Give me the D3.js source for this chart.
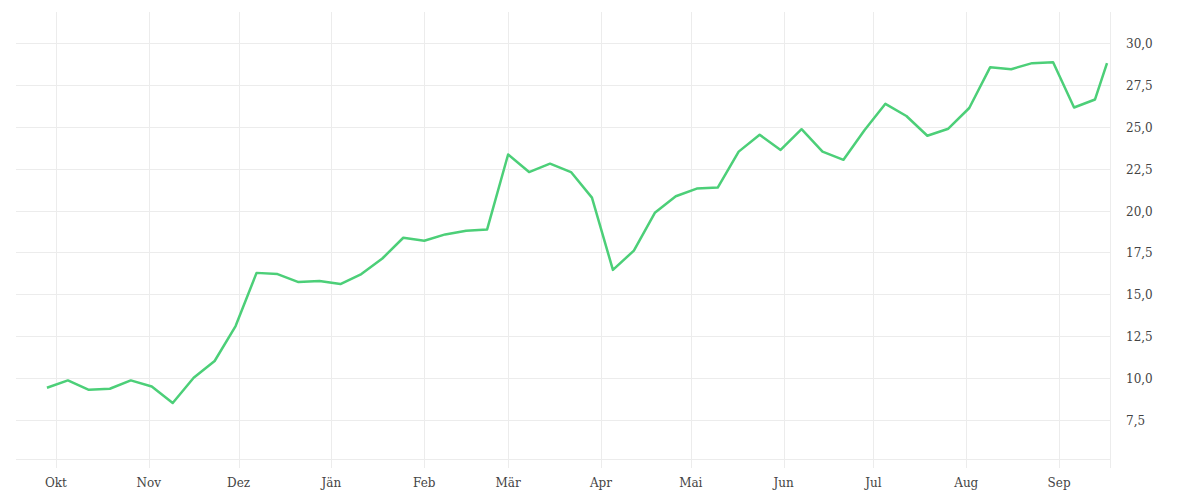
<!DOCTYPE html>
<html>
<head>
<meta charset="utf-8">
<script src="https://cdn.jsdelivr.net/npm/d3@7"></script>
<style>
  html, body { margin: 0; padding: 0; background: #fff; }
  svg { display: block; }
  text { font-family: "DejaVu Serif", serif; font-size: 12px; fill: #444; }
</style>
</head>
<body>
<svg id="chart" width="1200" height="500"></svg>
<script>
// ---- data ----
const startDate = "2022-09-28";   // first weekly observation (Wednesdays)
const lastDate = "2023-09-17";    // final (partial week) observation
const values = [
  9.40, 9.84, 9.28, 9.34, 9.84, 9.48, 8.49, 10.00, 11.00, 13.09,
  16.27, 16.20, 15.72, 15.78, 15.60, 16.20, 17.13, 18.37, 18.19, 18.57,
  18.79, 18.87, 23.35, 22.30, 22.80, 22.30, 20.77, 16.45, 17.60, 19.86,
  20.85, 21.31, 21.37, 23.52, 24.53, 23.62, 24.86, 23.52, 23.03, 24.80,
  26.38, 25.65, 24.47, 24.89, 26.13, 28.57, 28.45, 28.81, 28.87, 26.16,
  26.64, 28.81
];
const monthLabels = ["Okt", "Nov", "Dez", "Jän", "Feb", "Mär", "Apr", "Mai", "Jun", "Jul", "Aug", "Sep"];
const monthStarts = ["2022-10-01", "2022-11-01", "2022-12-01", "2023-01-01", "2023-02-01", "2023-03-01",
                     "2023-04-01", "2023-05-01", "2023-06-01", "2023-07-01", "2023-08-01", "2023-09-01"];
const yTicks = [7.5, 10, 12.5, 15, 17.5, 20, 22.5, 25, 27.5, 30];
const xDomain = ["2022-09-18", "2023-09-18"];
const yDomain = [5.17, 31.87];

// ---- build ----
const parse = d3.utcParse("%Y-%m-%d");
const dates = values.map((v, i) => i < values.length - 1
  ? d3.utcDay.offset(parse(startDate), i * 7)
  : parse(lastDate));
const data = values.map((v, i) => ({ date: dates[i], value: v }));

const pLeft = 16, pRight = 1110, pTop = 12, pBottom = 458.5;
const x = d3.scaleUtc().domain(xDomain.map(parse)).range([17, pRight]);
const y = d3.scaleLinear().domain(yDomain).range([pBottom, pTop]);

const locale = d3.formatLocale({ decimal: ",", thousands: ".", grouping: [3], currency: ["", " €"] });
const fmt = locale.format(".1f");

const svg = d3.select("#chart");
const grid = "#ececec";

// horizontal grid
svg.append("g")
  .selectAll("line").data(yTicks).join("line")
  .attr("x1", pLeft).attr("x2", pRight)
  .attr("y1", d => Math.round(y(d)) + 0.5).attr("y2", d => Math.round(y(d)) + 0.5)
  .attr("stroke", grid).attr("stroke-width", 1);
// bottom boundary
svg.append("line")
  .attr("x1", pLeft).attr("x2", pRight)
  .attr("y1", Math.round(pBottom) + 0.5).attr("y2", Math.round(pBottom) + 0.5)
  .attr("stroke", grid);

// vertical grid (month starts) + right border
const monthDates = monthStarts.map(parse);
svg.append("g")
  .selectAll("line").data(monthDates).join("line")
  .attr("x1", d => Math.round(x(d)) + 0.5).attr("x2", d => Math.round(x(d)) + 0.5)
  .attr("y1", pTop).attr("y2", 468)
  .attr("stroke", grid);
svg.append("line")
  .attr("x1", pRight + 0.5).attr("x2", pRight + 0.5)
  .attr("y1", pTop).attr("y2", 468)
  .attr("stroke", grid);

// x labels
svg.append("g")
  .selectAll("text").data(monthDates).join("text")
  .attr("x", d => x(d)).attr("y", 487)
  .attr("text-anchor", "middle")
  .text((d, i) => monthLabels[i]);

// y labels
svg.append("g")
  .selectAll("text").data(yTicks).join("text")
  .attr("x", 1126).attr("y", d => y(d) + 5)
  .attr("text-anchor", "start")
  .text(d => fmt(d));

// line
const line = d3.line().x(d => x(d.date)).y(d => y(d.value));
svg.append("path")
  .datum(data)
  .attr("d", line)
  .attr("fill", "none")
  .attr("stroke", "#4ccf78")
  .attr("stroke-width", 2.5)
  .attr("stroke-linejoin", "round");
</script>
</body>
</html>
